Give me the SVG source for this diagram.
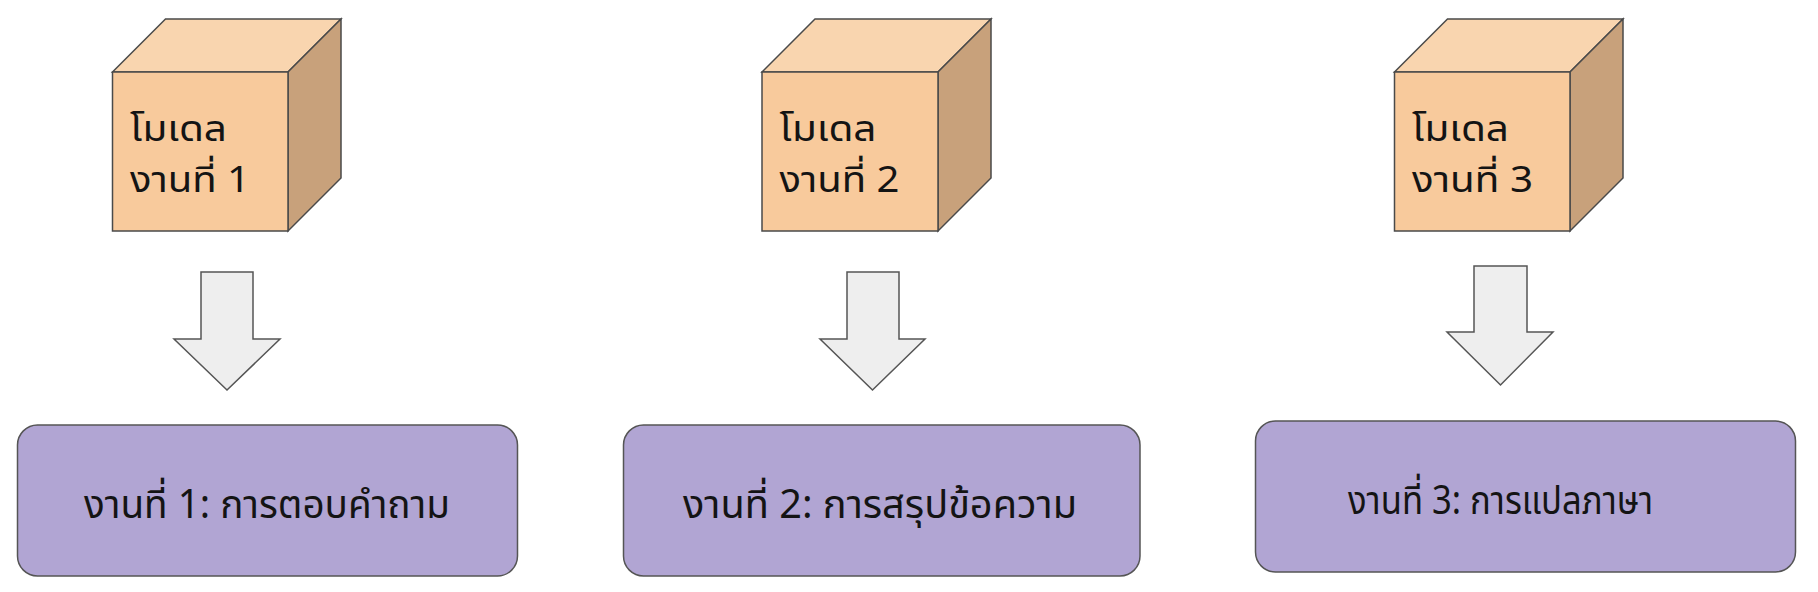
<svg xmlns="http://www.w3.org/2000/svg" width="1818" height="592" viewBox="0 0 1818 592">
<style>
.front{fill:#F8CA9C;stroke:#4a4a4a;stroke-width:1.5}
.top{fill:#F9D5AF;stroke:#4a4a4a;stroke-width:1.5}
.side{fill:#C8A17B;stroke:#4a4a4a;stroke-width:1.5}
.task{fill:#B1A5D3;stroke:#555;stroke-width:1.5}
.arrow{fill:#EEEEEE;stroke:#555;stroke-width:1.5;stroke-linejoin:miter}
.ct{font-family:"Noto Sans Thai","Noto Sans","DejaVu Sans",sans-serif;font-size:36px;fill:#141414}
.tt{font-family:"Noto Sans Thai","Noto Sans","DejaVu Sans",sans-serif;font-size:40px;fill:#141414;text-anchor:middle}
</style>
<rect width="1818" height="592" fill="#FFFFFF"/>
<g id="model1">
<polygon class="top" points="112.5,72 165.5,19 341,19 288,72"/>
<polygon class="side" points="288,72 341,19 341,178 288,231"/>
<rect class="front" x="112.5" y="72" width="175.5" height="159"/>
<text class="ct" x="130" y="141" textLength="97" lengthAdjust="spacingAndGlyphs">โมเดล</text>
<text class="ct" x="130" y="192" textLength="120" lengthAdjust="spacingAndGlyphs">งานที่ 1</text>
</g>
<g id="model2">
<polygon class="top" points="762,72 815,19 991,19 938,72"/>
<polygon class="side" points="938,72 991,19 991,178 938,231"/>
<rect class="front" x="762" y="72" width="176" height="159"/>
<text class="ct" x="779.5" y="141" textLength="97" lengthAdjust="spacingAndGlyphs">โมเดล</text>
<text class="ct" x="779.5" y="192" textLength="120" lengthAdjust="spacingAndGlyphs">งานที่ 2</text>
</g>
<g id="model3">
<polygon class="top" points="1394.5,72 1447.5,19 1623,19 1570,72"/>
<polygon class="side" points="1570,72 1623,19 1623,178 1570,231"/>
<rect class="front" x="1394.5" y="72" width="175.5" height="159"/>
<text class="ct" x="1412" y="141" textLength="97" lengthAdjust="spacingAndGlyphs">โมเดล</text>
<text class="ct" x="1412" y="192" textLength="121" lengthAdjust="spacingAndGlyphs">งานที่ 3</text>
</g>
<g id="connectors">
<polygon class="arrow" points="201,272 253,272 253,339 280,339 227,390 174,339 201,339"/>
<polygon class="arrow" points="847,272 899,272 899,339 925,339 872.5,390 820,339 847,339"/>
<polygon class="arrow" points="1474,266 1527,266 1527,332 1553,332 1500.5,385 1447,332 1474,332"/>
</g>
<g id="task1">
<rect class="task" x="17.5" y="425" width="500" height="151" rx="20" ry="20"/>
<text class="tt" x="267" y="518" textLength="366" lengthAdjust="spacingAndGlyphs">งานที่ 1: การตอบคำถาม</text>
</g>
<g id="task2">
<rect class="task" x="623.5" y="425" width="516.5" height="151" rx="20" ry="20"/>
<text class="tt" x="880" y="518" textLength="394" lengthAdjust="spacingAndGlyphs">งานที่ 2: การสรุปข้อความ</text>
</g>
<g id="task3">
<rect class="task" x="1255.5" y="421" width="540" height="151" rx="20" ry="20"/>
<text class="tt" x="1500.5" y="514" textLength="305" lengthAdjust="spacingAndGlyphs">งานที่ 3: การแปลภาษา</text>
</g>
</svg>
